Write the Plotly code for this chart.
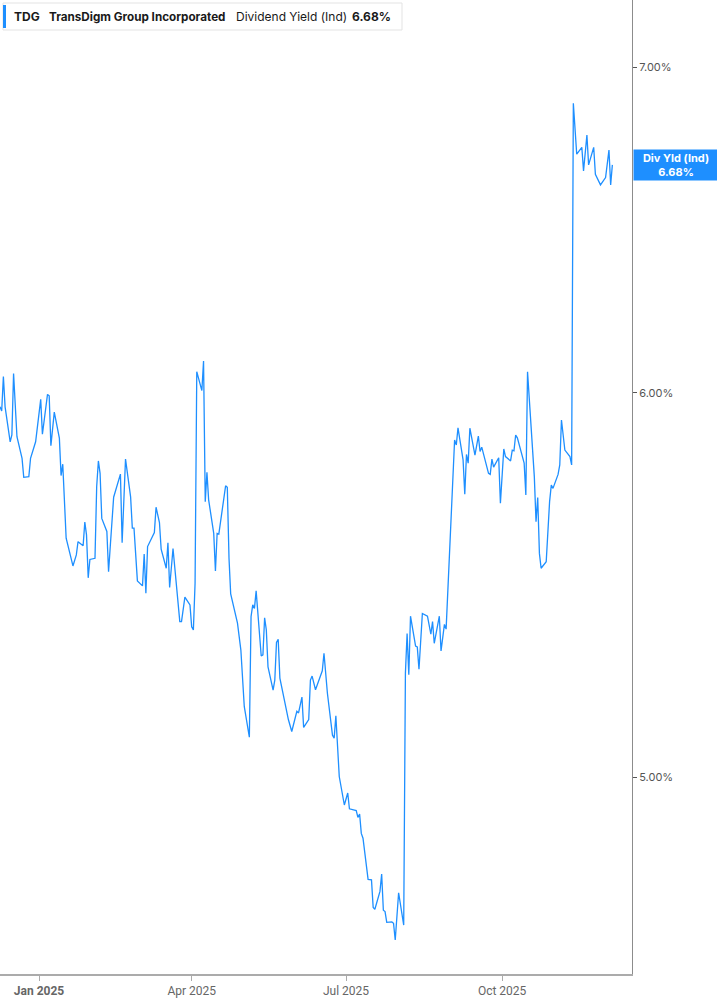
import math
import plotly.graph_objects as go

# ---------------- data ----------------
dates = [
    "2024-12-09", "2024-12-10", "2024-12-11", "2024-12-12", "2024-12-15", "2024-12-16",
    "2024-12-17", "2024-12-19", "2024-12-22", "2024-12-23", "2024-12-26", "2024-12-27",
    "2024-12-30",
    "2025-01-02", "2025-01-03", "2025-01-06", "2025-01-07", "2025-01-08", "2025-01-10",
    "2025-01-13", "2025-01-14", "2025-01-15", "2025-01-17", "2025-01-21", "2025-01-23",
    "2025-01-24", "2025-01-27", "2025-01-28", "2025-01-29", "2025-01-30", "2025-01-31",
    "2025-02-03", "2025-02-04", "2025-02-05", "2025-02-06", "2025-02-07", "2025-02-10",
    "2025-02-11", "2025-02-12", "2025-02-14", "2025-02-18", "2025-02-19", "2025-02-21",
    "2025-02-24", "2025-02-25", "2025-02-26", "2025-02-28",
    "2025-03-03", "2025-03-04", "2025-03-05", "2025-03-06", "2025-03-10", "2025-03-11",
    "2025-03-13", "2025-03-14", "2025-03-17", "2025-03-18", "2025-03-19", "2025-03-21",
    "2025-03-25", "2025-03-26", "2025-03-28", "2025-03-31",
    "2025-04-01", "2025-04-02", "2025-04-03", "2025-04-04", "2025-04-07", "2025-04-08",
    "2025-04-09", "2025-04-10", "2025-04-11", "2025-04-14", "2025-04-15", "2025-04-16",
    "2025-04-17", "2025-04-21", "2025-04-22", "2025-04-23", "2025-04-24", "2025-04-28",
    "2025-04-30",
    "2025-05-02", "2025-05-05", "2025-05-06", "2025-05-07", "2025-05-08", "2025-05-09",
    "2025-05-12", "2025-05-13", "2025-05-14", "2025-05-15", "2025-05-16", "2025-05-19",
    "2025-05-20", "2025-05-21", "2025-05-22", "2025-05-23", "2025-05-28", "2025-05-30",
    "2025-06-02", "2025-06-03", "2025-06-05", "2025-06-06", "2025-06-09", "2025-06-10",
    "2025-06-11", "2025-06-13", "2025-06-17", "2025-06-18", "2025-06-20", "2025-06-23",
    "2025-06-24", "2025-06-25", "2025-06-27", "2025-06-30",
    "2025-07-02", "2025-07-03", "2025-07-07", "2025-07-08", "2025-07-09", "2025-07-10",
    "2025-07-11", "2025-07-14", "2025-07-16", "2025-07-17", "2025-07-18", "2025-07-21",
    "2025-07-22", "2025-07-23", "2025-07-24", "2025-07-25", "2025-07-28", "2025-07-29",
    "2025-07-30",
    "2025-08-01", "2025-08-04", "2025-08-05", "2025-08-06", "2025-08-07", "2025-08-08",
    "2025-08-11", "2025-08-12", "2025-08-13", "2025-08-15", "2025-08-18", "2025-08-20",
    "2025-08-21", "2025-08-22", "2025-08-25", "2025-08-26", "2025-08-28", "2025-08-29",
    "2025-09-03", "2025-09-04", "2025-09-05", "2025-09-08", "2025-09-09", "2025-09-10",
    "2025-09-11", "2025-09-12", "2025-09-15", "2025-09-17", "2025-09-18", "2025-09-19",
    "2025-09-23", "2025-09-24", "2025-09-25", "2025-09-26", "2025-09-29", "2025-09-30",
    "2025-10-02", "2025-10-03", "2025-10-06", "2025-10-07", "2025-10-08", "2025-10-09",
    "2025-10-10", "2025-10-14", "2025-10-15", "2025-10-16", "2025-10-20", "2025-10-21",
    "2025-10-22", "2025-10-23", "2025-10-24", "2025-10-27", "2025-10-29", "2025-10-30",
    "2025-10-31",
    "2025-11-03", "2025-11-04", "2025-11-05", "2025-11-07", "2025-11-10", "2025-11-11",
    "2025-11-12", "2025-11-14", "2025-11-17", "2025-11-18", "2025-11-20", "2025-11-21",
    "2025-11-24", "2025-11-25", "2025-11-28",
    "2025-12-01", "2025-12-03", "2025-12-04", "2025-12-05",
]

div_yield = [
    5.960, 5.948, 6.046, 5.960, 5.862, 5.881,
    6.055, 5.876, 5.816, 5.764, 5.766, 5.816,
    5.862,
    5.981, 5.883, 5.995, 5.991, 5.851, 5.945,
    5.872, 5.769, 5.800, 5.600, 5.527, 5.556,
    5.591, 5.580, 5.643, 5.609, 5.496, 5.544,
    5.547, 5.739, 5.809, 5.775, 5.653, 5.618,
    5.512, 5.578, 5.710, 5.773, 5.588, 5.814,
    5.711, 5.627, 5.627, 5.488,
    5.475, 5.558, 5.456, 5.578, 5.615, 5.683,
    5.642, 5.571, 5.521, 5.588, 5.471, 5.573,
    5.383, 5.383, 5.446, 5.426,
    5.370, 5.362, 5.482, 6.060, 6.006, 6.091,
    5.698, 5.778, 5.703, 5.613, 5.514, 5.613,
    5.611, 5.741, 5.737, 5.547, 5.454, 5.379,
    5.311,
    5.171, 5.096, 5.396, 5.426, 5.417, 5.462,
    5.296, 5.299, 5.393, 5.362, 5.269, 5.211,
    5.236, 5.330, 5.338, 5.241, 5.139, 5.110,
    5.159, 5.155, 5.194, 5.120, 5.139, 5.236,
    5.246, 5.212, 5.259, 5.303, 5.204, 5.101,
    5.094, 5.148, 5.002, 4.935,
    4.963, 4.926, 4.922, 4.906, 4.914, 4.869,
    4.858, 4.764, 4.763, 4.701, 4.697, 4.737,
    4.776, 4.695, 4.692, 4.668, 4.669, 4.666,
    4.629,
    4.734, 4.662, 5.253, 5.353, 5.249, 5.397,
    5.321, 5.319, 5.263, 5.404, 5.397, 5.351,
    5.383, 5.328, 5.397, 5.309, 5.376, 5.364,
    5.867, 5.853, 5.901, 5.812, 5.718, 5.827,
    5.803, 5.900, 5.825, 5.878, 5.835, 5.847,
    5.775, 5.772, 5.814, 5.792, 5.818, 5.694,
    5.842, 5.821, 5.809, 5.839, 5.837, 5.881,
    5.873, 5.803, 5.716, 6.060, 5.766, 5.644,
    5.709, 5.560, 5.521, 5.538, 5.698, 5.743,
    5.734,
    5.772, 5.798, 5.923, 5.839, 5.821, 5.798,
    6.882, 6.718, 6.740, 6.665, 6.779, 6.684,
    6.740, 6.654, 6.621,
    6.644, 6.731, 6.621, 6.684,
]

y_tick_vals = [5, 6, 7]
y_tick_text = ["5.00%", "6.00%", "7.00%"]
x_tick_vals = ["2025-01-01", "2025-04-01", "2025-07-01", "2025-10-01"]
x_tick_text = ["<b>Jan 2025</b>", "Apr 2025", "Jul 2025", "Oct 2025"]

ticker = "TDG"
company = "TransDigm Group Incorporated"
metric = "Dividend Yield (Ind)"
last_value = div_yield[-1]
last_label = f"{last_value:.2f}%"

BLUE = "#1E8FFF"

# ---------------- figure ----------------
fig = go.Figure()
fig.add_trace(go.Scatter(
    x=dates, y=div_yield, mode="lines",
    line=dict(color=BLUE, width=1.3),
    hoverinfo="skip", showlegend=False,
))

fig.update_layout(
    width=717, height=1005,
    margin=dict(l=0, r=85, t=0, b=31),
    paper_bgcolor="white", plot_bgcolor="white",
    font=dict(family="Inter, Roboto, sans-serif", color="#555"),
    showlegend=False,
)

fig.update_xaxes(
    range=["2024-12-09", "2025-12-16 14:00"],
    showgrid=False, zeroline=False,
    showline=True, linecolor="#ababab", linewidth=1.5,
    ticks="outside", ticklen=5, tickcolor="#ababab", tickwidth=1,
    tickvals=x_tick_vals, ticktext=x_tick_text,
    tickfont=dict(family="Liberation Sans Narrow, Roboto, sans-serif", size=12, color="#666"),
)

fig.update_yaxes(
    type="log", side="right",
    range=[0.65850, 0.85898],
    showgrid=False, zeroline=False,
    showline=True, linecolor="#8c8c8c", linewidth=1,
    ticks="outside", ticklen=4, tickcolor="#555", tickwidth=1,
    tickvals=y_tick_vals, ticktext=y_tick_text,
    tickfont=dict(family="Inter, Roboto, sans-serif", size=11, color="#555"),
)

# value label at the right axis
fig.add_annotation(
    xref="paper", x=1, xanchor="left", xshift=1,
    yref="y", y=math.log10(last_value), yanchor="middle",
    text=f"<b>Div Yld (Ind)</b><br><b>{last_label}</b>",
    showarrow=False, align="center",
    font=dict(family="Inter, Roboto, sans-serif", size=11, color="white"),
    bgcolor=BLUE, borderpad=2, width=80, height=26,
)

# header box
fig.add_shape(
    type="rect", xref="paper", yref="paper",
    xsizemode="pixel", ysizemode="pixel", xanchor=0, yanchor=1,
    x0=3, x1=402, y0=-3, y1=-30,
    fillcolor="white", line=dict(color="#e3e3e3", width=1), layer="above",
)
fig.add_shape(
    type="rect", xref="paper", yref="paper",
    xsizemode="pixel", ysizemode="pixel", xanchor=0, yanchor=1,
    x0=3, x1=6, y0=-5, y1=-28,
    fillcolor=BLUE, line=dict(width=0), layer="above",
)

header_parts = [
    (f"<b>{ticker}</b>", 12, 12),
    (f"<b>{company}</b>", 47, 11.7),
    (metric, 234, 12),
    (f"<b>{last_label}</b>", 350, 12),
]
for txt, px, fs in header_parts:
    fig.add_annotation(
        xref="paper", x=0, xanchor="left", xshift=px,
        yref="paper", y=1, yanchor="middle", yshift=-16.5,
        text=txt, showarrow=False,
        font=dict(family="Inter, Roboto, sans-serif", size=fs, color="#1a1a1a"),
    )

fig.write_html(
    "out.html",
    config={"displayModeBar": False},
    post_script="document.body.style.margin='0px';document.body.style.overflow='hidden';",
)
